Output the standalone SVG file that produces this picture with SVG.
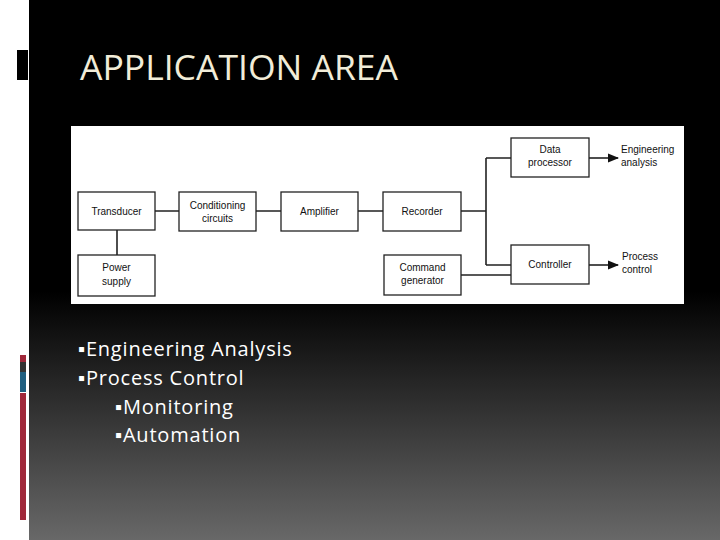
<svg xmlns="http://www.w3.org/2000/svg" width="720" height="540" viewBox="0 0 720 540">
<defs>
<linearGradient id="bg" x1="0" y1="0" x2="0" y2="1">
<stop offset="0" stop-color="#000"/><stop offset="0.54" stop-color="#000"/><stop offset="1" stop-color="#686868"/>
</linearGradient>
<marker id="ar" viewBox="0 0 10 10" refX="9" refY="5" markerWidth="7" markerHeight="7" orient="auto"><path d="M0,1 L10,5 L0,9 z" fill="#111"/></marker>
<style>
.b{fill:#fff;stroke:#222;stroke-width:1.3}
.t{font-family:"Liberation Sans",Arial,sans-serif;font-size:10px;fill:#111;text-anchor:middle}
.l{font-family:"Liberation Sans",Arial,sans-serif;font-size:10px;fill:#111}
.c{stroke:#222;stroke-width:1.6;fill:none}
.bu{font-family:"Open Sans","Liberation Sans",sans-serif;font-size:20px;fill:#fff;letter-spacing:0.8px}
</style>
</defs>
<rect width="720" height="540" fill="#fff"/>
<rect x="29" y="0" width="691" height="540" fill="url(#bg)"/>
<rect x="17" y="50" width="11" height="30" fill="#000"/>
<rect x="20" y="355" width="6" height="7" fill="#a0283a"/>
<rect x="20" y="362" width="6" height="10" fill="#333"/>
<rect x="20" y="372" width="6" height="20" fill="#1f5f80"/>
<rect x="20" y="393" width="6" height="127" fill="#a0283a"/>
<text x="80" y="80" font-family="'Open Sans','Liberation Sans',sans-serif" font-size="35" fill="#f1ecd8" textLength="318" lengthAdjust="spacingAndGlyphs">APPLICATION AREA</text>
<rect x="71" y="126" width="613" height="178" fill="#fff"/>
<g id="connectors">
<path class="c" d="M155,211 H179 M256,211 H281 M358,211 H383 M461,211 H486 M486,158 V265 M486,158 H511 M486,265 H511 M461,275 H511 M117,230 V255"/>
<path class="c" d="M589,158 H618" marker-end="url(#ar)"/>
<path class="c" d="M589,265 H618" marker-end="url(#ar)"/>
</g>
<g id="transducer"><rect class="b" x="78" y="192" width="77" height="38"/><text class="t" x="116.5" y="215">Transducer</text></g>
<g id="conditioning"><rect class="b" x="179" y="192" width="77" height="39"/><text class="t" x="217.5" y="209">Conditioning</text><text class="t" x="217.5" y="222">circuits</text></g>
<g id="amplifier"><rect class="b" x="281" y="192" width="77" height="39"/><text class="t" x="319.5" y="215">Amplifier</text></g>
<g id="recorder"><rect class="b" x="383" y="192" width="78" height="39"/><text class="t" x="422" y="215">Recorder</text></g>
<g id="dataprocessor"><rect class="b" x="511" y="138" width="78" height="39"/><text class="t" x="550" y="153">Data</text><text class="t" x="550" y="166">processor</text></g>
<g id="controller"><rect class="b" x="511" y="245" width="78" height="39"/><text class="t" x="550" y="268">Controller</text></g>
<g id="command"><rect class="b" x="384" y="255" width="77" height="40"/><text class="t" x="422.5" y="271">Command</text><text class="t" x="422.5" y="284">generator</text></g>
<g id="power"><rect class="b" x="78" y="255" width="77" height="41"/><text class="t" x="116.5" y="271">Power</text><text class="t" x="116.5" y="285">supply</text></g>
<g id="engineering"><text class="l" x="621" y="153">Engineering</text><text class="l" x="621" y="166">analysis</text></g>
<g id="process"><text class="l" x="622" y="260">Process</text><text class="l" x="622" y="273">control</text></g>
<text class="bu" x="78" y="356">▪Engineering Analysis</text>
<text class="bu" x="78" y="385">▪Process Control</text>
<text class="bu" x="115" y="414">▪Monitoring</text>
<text class="bu" x="115" y="442">▪Automation</text>
</svg>
